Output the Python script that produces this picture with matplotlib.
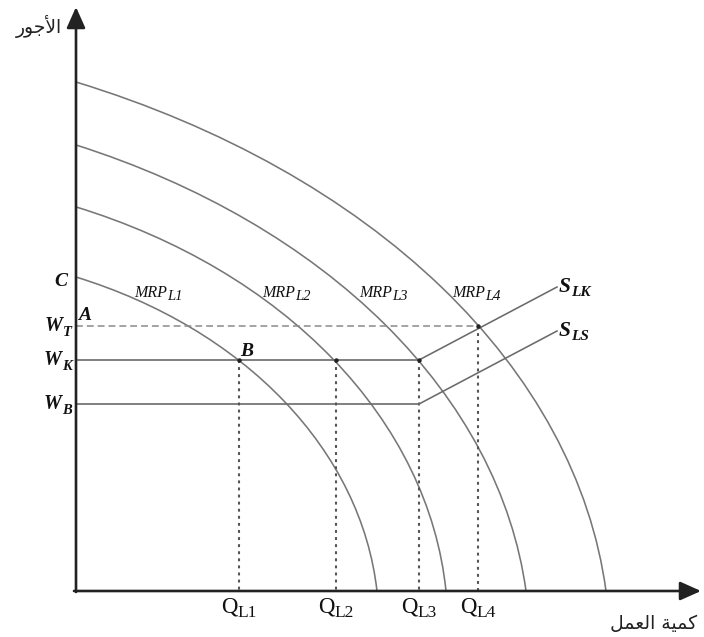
import numpy as np
import matplotlib.pyplot as plt
from matplotlib.patches import Arc

# MRP curves, elliptic arcs (centre, semi axes)
mrp_names = ['L1', 'L2', 'L3', 'L4']
mrp_cx = [-177.1, -222.7, -310.5, -364.7]
mrp_cy = [-32.5, -35.2, -53.7, -57.1]
mrp_a = [479.9, 594.5, 764.2, 898.5]
mrp_b = [372.8, 452.2, 546.9, 619.4]

# wage levels and labour quantities
wage_names = ['T', 'K', 'B']
wage_vals = [265, 231, 187]
q_names = ['L1', 'L2', 'L3', 'L4']
q_vals = [163, 260, 343, 402]
q_top = [231, 231, 231, 265]

# supply curves: start (kink) and end
s_names = ['LK', 'LS']
s_x = [[343, 481], [343, 481]]
s_y = [[231, 304], [187, 260]]

ax_y_label = '\ufead\ufeee\ufe9f\ufef7\ufe8d'                                  # الأجور
ax_x_label = '\ufede\ufee4\ufecc\ufedf\ufe8d \ufe94\ufef4\ufee4\ufedb'       # كمية العمل

fig = plt.figure(figsize=(7.04, 6.37), dpi=100)
ax = fig.add_axes([0, 0, 1, 1])
ax.set_xlim(-76, 628)
ax.set_ylim(-46, 591)
ax.axis('off')

curve_col = '#777777'
line_col = '#6a6a6a'
txt_col = '#111111'
serif = ['Liberation Serif', 'DejaVu Serif']


def sub_label(x, y, main, sub, fs, sfs, drop=0, align='left', **kw):
    t1 = ax.text(x, y, main, fontsize=fs, ha='left', va='baseline',
                 family=serif, color=txt_col, **kw)
    t2 = ax.annotate(sub, xy=(1, 0), xycoords=t1, xytext=(0.3, -drop),
                     textcoords='offset points', fontsize=sfs, ha='left',
                     va='baseline', family=serif, color=txt_col, **kw)
    if align != 'left':
        fig.canvas.draw()
        r = fig.canvas.get_renderer()
        w = t2.get_window_extent(r).x1 - t1.get_window_extent(r).x0
        t1.set_x(x - (w / 2 if align == 'center' else w))
    return t1, t2


# axes with arrows
arr = dict(arrowstyle='-|>,head_length=0.85,head_width=0.38', lw=1.9,
           color='#222222', mutation_scale=15, shrinkA=0, shrinkB=0)
ax.annotate('', xy=(0, 584), xytext=(0, -1), arrowprops=arr)
ax.annotate('', xy=(625, 0), xytext=(-2, 0), arrowprops=arr)

# MRP arcs
for cx, cy, a, b in zip(mrp_cx, mrp_cy, mrp_a, mrp_b):
    x0 = cx + a * np.sqrt(1 - (cy / b) ** 2)
    y0 = cy + b * np.sqrt(1 - (cx / a) ** 2)
    t1 = np.degrees(np.arctan2(-cy, x0 - cx))
    t2 = np.degrees(np.arctan2(y0 - cy, -cx))
    ax.add_patch(Arc((cx, cy), 2 * a, 2 * b, theta1=t1, theta2=t2,
                     color=curve_col, lw=1.15))

# wage lines
ax.plot([0, q_vals[3]], [wage_vals[0], wage_vals[0]], color='#8a8a8a', lw=1.1,
        linestyle=(0, (4.5, 2.6)))
ax.plot([0, q_vals[2]], [wage_vals[1], wage_vals[1]], color=line_col, lw=1.2)
ax.plot([0, q_vals[2]], [wage_vals[2], wage_vals[2]], color=line_col, lw=1.2)

# quantity lines
for q, top in zip(q_vals, q_top):
    ax.plot([q, q], [top, 0], color='#555555', lw=1.5,
            linestyle=(0, (1.4, 2.0)), dash_capstyle='butt')

# supply curves
for xs, ys in zip(s_x, s_y):
    ax.plot(xs, ys, color=line_col, lw=1.15)

# small dots at the crossings
ax.plot(q_vals[:3], [wage_vals[1]] * 3, 'o', color='#222222', ms=2.2)
ax.plot([q_vals[3]], [wage_vals[0]], 'o', color='#222222', ms=2.2)

# labels
bi = dict(style='italic', weight='bold')
for name, w in zip(wage_names, wage_vals):
    sub_label(-4, w - 5, 'W', name, 14.5, 10.5, drop=0, align='right', **bi)
ax.text(-9, 310, 'C', ha='right', va='center', fontsize=14, family=serif,
        color=txt_col, **bi)
ax.text(2, 275, 'A', ha='left', va='center', fontsize=14, family=serif,
        color=txt_col, **bi)
ax.text(164, 239, 'B', ha='left', va='center', fontsize=14, family=serif,
        color=txt_col, **bi)

mrp_lx = [58, 186, 283, 376]
for name, lx in zip(mrp_names, mrp_lx):
    sub_label(lx, 294, 'MRP', name, 11.5, 10.5, drop=-0.5, style='italic')

for name, xs, ys in zip(s_names, s_x, s_y):
    sub_label(xs[1] + 2, ys[1] - 5, 'S', name, 15.5, 11, drop=-1, **bi)

for name, q in zip(q_names, q_vals):
    sub_label(q, -22, 'Q', name, 16.5, 12.5, drop=-1, align='center')

ax.text(-37, 565, ax_y_label, ha='center', va='center', fontsize=13.5,
        family=['DejaVu Sans'], color='#222222')
ax.text(578, -33, ax_x_label, ha='center', va='center', fontsize=13.5,
        family=['DejaVu Sans'], color='#222222')

fig.savefig('out.png')
